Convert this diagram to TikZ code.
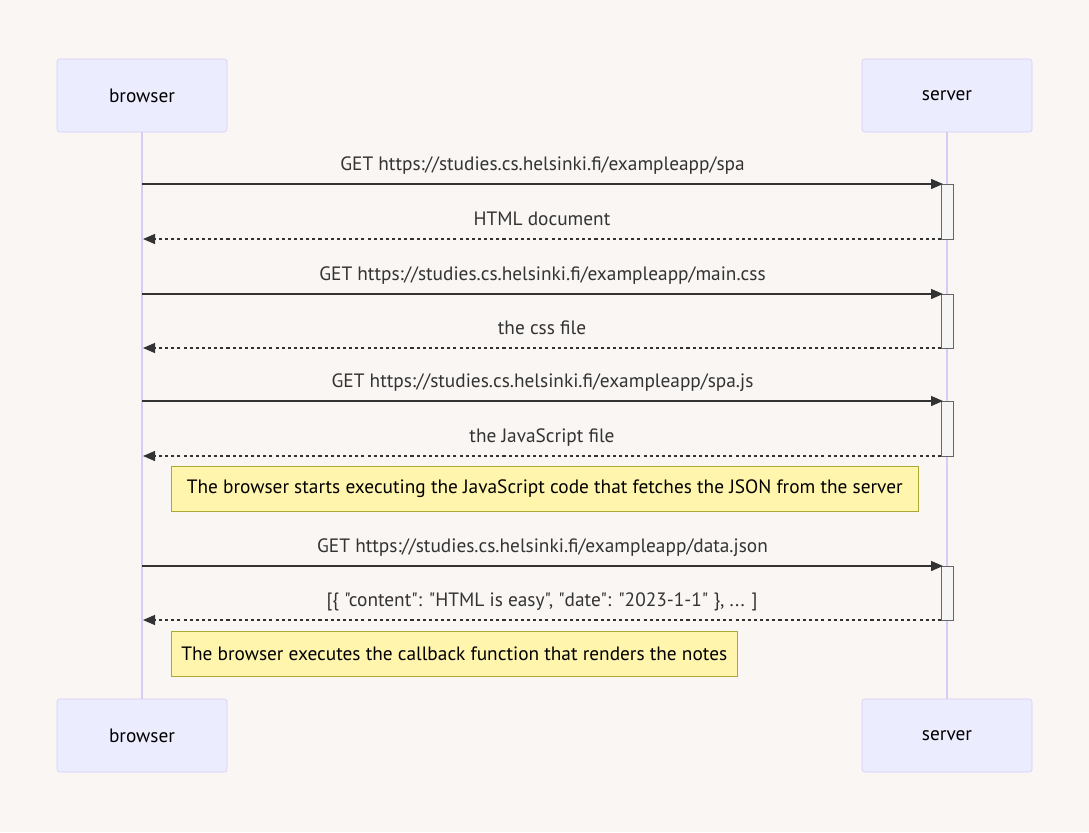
\documentclass[tikz,border=0pt]{standalone}
\usepackage{fontspec}
\newfontfamily\diagfont{PT Sans}
\usetikzlibrary{positioning,arrows.meta}
\definecolor{bgcol}{HTML}{F9F6F4}
\definecolor{actfill}{HTML}{ECECFF}
\definecolor{actline}{HTML}{D6CCF5}
\definecolor{notefill}{HTML}{FFF5AD}
\definecolor{noteline}{HTML}{AAAA33}
\definecolor{msgcol}{HTML}{333333}

\begin{document}
\begin{tikzpicture}[x=0.75pt,y=-0.75pt,
font=\diagfont\fontsize{14.5}{17}\selectfont,
actor/.style={draw=actline,fill=actfill,rounded corners=2pt,minimum width=127.5pt,minimum height=54.75pt,inner sep=0pt},
life/.style={draw=actline,line width=1.1pt},
act/.style={draw=black!60,fill=black!4,minimum width=9pt,inner sep=0pt,outer sep=0pt},
req/.style={draw=msgcol,line width=1pt,-{Triangle[length=9pt,width=7.5pt]}},
rep/.style={req,dash pattern=on 2.3pt off 2.3pt},
lbl/.style={text=msgcol,anchor=base,yshift=10.5pt},
note/.style={draw=noteline,fill=notefill,minimum height=33.75pt,inner sep=0pt,anchor=west}]
\fill[bgcol] (0,0) rectangle (1089,832);

% actors
\node (bt) [actor] at (142,95.5) {browser};
\node (st) [actor] at (947,95.5) {server};
\node (bb) [actor] at (142,735.5) {browser};
\node (sb) [actor] at (947,735.5) {server};
\draw[life] (bt) -- (bb);
\draw[life] (st) -- (sb);

% activations
\node (a1) [act,minimum height=41.25pt] at (947,211.5) {};
\node (a2) [act,minimum height=40.5pt] at (947,321) {};
\node (a3) [act,minimum height=41.25pt] at (947,428.5) {};
\node (a4) [act,minimum height=40.5pt] at (947,593) {};

\coordinate (b1) at (142,184);
\coordinate (b2) at (143,239);
\coordinate (b3) at (142,294);
\coordinate (b4) at (143,348);
\coordinate (b5) at (142,401);
\coordinate (b6) at (143,456);
\coordinate (b7) at (142,566);
\coordinate (b8) at (143,620);

% messages
\draw[req] (b1) -- ([xshift=1.5pt]a1.north west)
  node[lbl,pos=0.5] {GET https://studies.cs.helsinki.fi/exampleapp/spa};
\draw[rep] (a1.south west) -- (b2)
  node[lbl,pos=0.5] {HTML document};
\draw[req] (b3) -- ([xshift=1.5pt]a2.north west)
  node[lbl,pos=0.5] {GET https://studies.cs.helsinki.fi/exampleapp/main.css};
\draw[rep] (a2.south west) -- (b4)
  node[lbl,pos=0.5] {the css file};
\draw[req] (b5) -- ([xshift=1.5pt]a3.north west)
  node[lbl,pos=0.5] {GET https://studies.cs.helsinki.fi/exampleapp/spa.js};
\draw[rep] (a3.south west) -- (b6)
  node[lbl,pos=0.5] {the JavaScript file};

\node (n1) [note,minimum width=560.25pt] at (171,488.5) {The browser starts executing the JavaScript code that fetches the JSON from the server};

\draw[req] (b7) -- ([xshift=1.5pt]a4.north west)
  node[lbl,pos=0.5] {GET https://studies.cs.helsinki.fi/exampleapp/data.json};
\draw[rep] (a4.south west) -- (b8)
  node[lbl,pos=0.5] {[\{ "content": "HTML is easy", "date": "2023-1-1" \}, ... ]};

\node (n2) [note,minimum width=424.5pt] at (171,654) {The browser executes the callback function that renders the notes};
\end{tikzpicture}
\end{document}
